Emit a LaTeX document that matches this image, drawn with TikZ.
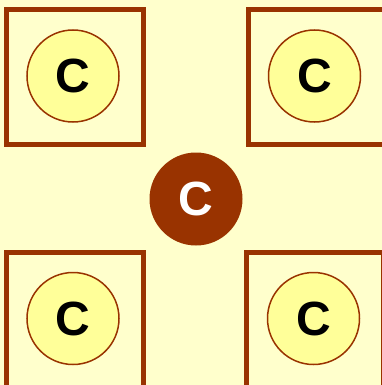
\documentclass[tikz,border=0pt]{standalone}
\usepackage{fontspec}
\setmainfont{Liberation Sans}
\definecolor{bgc}{HTML}{FFFFCC}
\definecolor{brownc}{HTML}{993300}
\definecolor{circc}{HTML}{FFFF99}
\begin{document}
\begin{tikzpicture}[x=1pt,y=-1pt,
  boxsq/.style={draw=brownc,line width=5pt,minimum width=137pt,minimum height=135pt,inner sep=0pt},
  ccirc/.style={circle,draw=brownc,line width=1.5pt,fill=circc,minimum size=92pt,inner sep=0pt,font=\fontsize{48}{48}\selectfont\bfseries},
  hub/.style={circle,fill=brownc,minimum size=93pt,inner sep=0pt,text=white,font=\fontsize{48}{48}\selectfont\bfseries}]
\fill[bgc] (0,0) rectangle (382,385);
\useasboundingbox (0,0) rectangle (382,385);
\node[boxsq] (sq1) at (75,77) {};
\node[boxsq] (sq2) at (316.5,77) {};
\node[boxsq] (sq3) at (75,319.5) {};
\node[boxsq] (sq4) at (315,319.5) {};
\node[ccirc] (c1) at (73,76) {C};
\node[ccirc] (c2) at (314.5,76) {C};
\node[ccirc] (c3) at (73,318.5) {C};
\node[ccirc] (c4) at (313.5,318.5) {C};
\node[hub] (c0) at (196,199) {C};
\end{tikzpicture}
\end{document}
